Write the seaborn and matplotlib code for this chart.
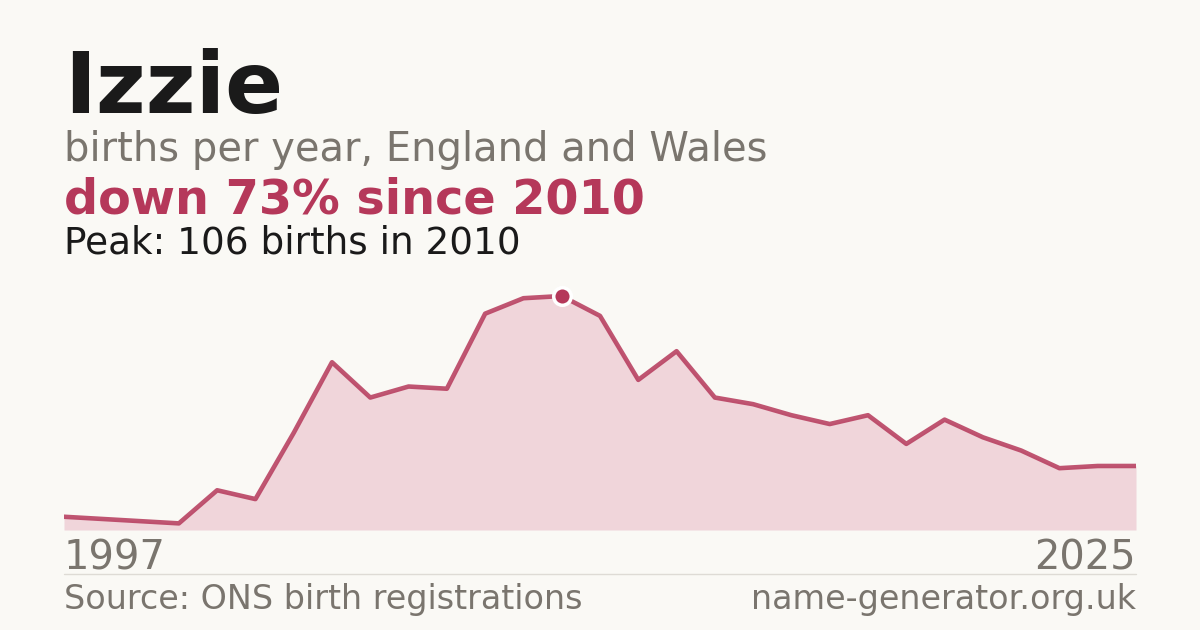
import matplotlib
matplotlib.use("Agg")
import matplotlib.pyplot as plt
import seaborn as sns
import pandas as pd

# births per year for the name
years = list(range(1997, 2026))
births = [6, 5, 4, 3, 18, 14, 44, 76, 60, 65, 64, 98, 105, 106, 97, 68, 81,
          60, 57, 52, 48, 52, 39, 50, 42, 36, 28, 29, 29]

name = "Izzie"
subtitle = "births per year, England and Wales"
change_text = "down 73% since 2010"
peak_text = "Peak: 106 births in 2010"
source_text = "Source: ONS birth registrations"
site_text = "name-generator.org.uk"

bg = "#faf9f5"
accent = "#b5385a"
fill_col = "#f0d5da"
grey = "#7a756e"
dark = "#1a1a1a"

df = pd.DataFrame({"year": years, "births": births})
peak_idx = df["births"].idxmax()

sns.set_theme(style="white")
plt.rcParams["font.family"] = ["DejaVu Sans"]

W, H = 1200, 630
fig = plt.figure(figsize=(12, 6.3), dpi=100, facecolor=bg)

def fy(py):
    return 1 - py / H

# plot area: x 64..1136, y 530 (bottom) .. 280 (top)
ax = fig.add_axes([64 / W, fy(530), 1072 / W, 250 / H])
ax.set_facecolor(bg)
ax.patch.set_alpha(0)
ax.fill_between(df["year"], df["births"], 0, color=fill_col, lw=0)
sns.lineplot(data=df, x="year", y="births", ax=ax, color=accent, lw=3.3,
             alpha=0.85)
ax.scatter([df.loc[peak_idx, "year"]], [df.loc[peak_idx, "births"]], s=160,
           color=accent, edgecolor="white", linewidth=2.5, zorder=5, clip_on=False)
ax.set_xlim(years[0], years[-1])
ax.set_ylim(0, 250 / 2.2075)
ax.axis("off")

# header text
fig.text(64 / W, fy(113), name, fontsize=61.7, fontweight="bold", color=dark, va="baseline")
fig.text(64 / W, fy(161), subtitle, fontsize=28.8, color=grey, va="baseline")
fig.text(64 / W, fy(214), change_text, fontsize=34.4, fontweight="bold", color=accent, va="baseline")
fig.text(64 / W, fy(254), peak_text, fontsize=26.9, color=dark, va="baseline")

# axis end labels
fig.text(64 / W, fy(569), str(years[0]), fontsize=28.8, color=grey, va="baseline")
fig.text(1136 / W, fy(569), str(years[-1]), fontsize=28.8, color=grey, va="baseline", ha="right")

# separator and footer
fig.add_artist(plt.Line2D([64 / W, 1136 / W], [fy(574), fy(574)], color="#dedbd5", lw=1))
fig.text(64 / W, fy(609), source_text, fontsize=24, color=grey, va="baseline")
fig.text(1136 / W, fy(609), site_text, fontsize=24, color=grey, va="baseline", ha="right")

fig.savefig("out.png", dpi=100, facecolor=bg)
